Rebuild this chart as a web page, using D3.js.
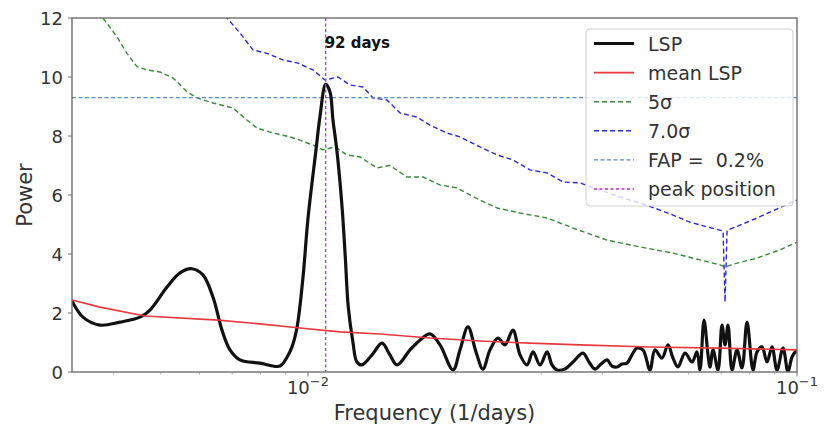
<!DOCTYPE html>
<html>
<head>
<meta charset="utf-8">
<script src="https://cdn.jsdelivr.net/npm/d3@7/dist/d3.min.js"></script>
<style>
  body { margin: 0; background: #fff; }
  text { font-family: "DejaVu Sans", sans-serif; white-space: pre; }
</style>
</head>
<body>
<svg id="chart" width="828" height="429"></svg>
<script>
// Lomb-Scargle periodogram of the light curve (frequency in 1/days)
const lspFreq = [0.003292, 0.003466, 0.003755, 0.004126, 0.004534, 0.004753, 0.005149, 0.005473, 0.00579, 0.006098,
  0.006393, 0.00667, 0.006926, 0.00726, 0.007975, 0.008765, 0.009059, 0.009275, 0.009495, 0.009767,
  0.01, 0.01038, 0.01058, 0.01087, 0.01109, 0.011249, 0.01146, 0.01174, 0.01192, 0.01209,
  0.01236, 0.01259, 0.01289, 0.013521, 0.01417, 0.01471, 0.01521, 0.01617, 0.01694, 0.01776,
  0.01862, 0.0198, 0.02046, 0.02124, 0.02206, 0.02279, 0.02356, 0.02446, 0.02528, 0.02625,
  0.02714, 0.02805, 0.02885, 0.02982, 0.03083, 0.03155, 0.0323, 0.03354, 0.03483, 0.03651,
  0.03755, 0.03863, 0.03974, 0.04088, 0.04185, 0.04284, 0.04386, 0.04491, 0.04598, 0.04707,
  0.04842, 0.05004, 0.05123, 0.05295, 0.05447, 0.05577, 0.05709, 0.05902, 0.06099, 0.06244,
  0.06333, 0.06454, 0.06577, 0.0664, 0.06734, 0.06894, 0.07025, 0.07126, 0.07227, 0.07365,
  0.0754, 0.07719, 0.07904, 0.08128, 0.08283, 0.0848, 0.08684, 0.0889, 0.09101, 0.09363,
  0.09585, 0.09768, 0.1];
const lspPower = [2.41, 1.86, 1.59, 1.69, 1.86, 2.1, 2.88, 3.36, 3.5, 3.29,
  2.54, 1.42, 0.75, 0.41, 0.3, 0.2, 0.5, 0.85, 1.5, 3.2,
  5.2, 7.5, 8.65, 9.75, 9.5, 8.54, 7.5, 5.6, 3.9, 2.2,
  1.0, 0.34, 0.24, 0.58, 0.98, 0.58, 0.24, 0.75, 1.08, 1.29,
  0.92, 0.07, 0.75, 1.53, 0.68, 0.1, 0.75, 1.15, 0.92, 1.42,
  0.58, 0.24, 0.68, 0.24, 0.68, 0.24, 0.07, 0.1, 0.34, 0.64,
  0.34, 0.1, 0.27, 0.41, 0.2, 0.17, 0.27, 0.3, 0.58, 0.81,
  0.75, 0.07, 0.75, 0.47, 0.92, 0.47, 0.17, 0.64, 0.34, 0.68,
  0.07, 1.76, 0.58, 0.17, 0.75, 0.07, 1.59, 0.92, 1.59, 0.07,
  0.75, 0.14, 1.69, 0.07, 0.68, 0.85, 0.34, 0.85, 0.07, 0.81,
  0.0, 0.51, 0.75];

// Mean periodogram of the simulated light curves
const meanFreq = [0.003292, 0.003755, 0.004642, 0.006546, 0.007975, 0.00963, 0.01163, 0.01404, 0.01776, 0.02247,
  0.02844, 0.036, 0.05004, 0.06959, 0.1];
const meanPower = [2.44, 2.2, 1.9, 1.76, 1.63, 1.49, 1.36, 1.29, 1.15, 1.05,
  0.98, 0.92, 0.85, 0.81, 0.75];

// 5 sigma significance level
const sigma5Freq = [0.003702, 0.003808, 0.004069, 0.004265, 0.004471, 0.004686, 0.004982, 0.005297, 0.005656, 0.005929,
  0.006393, 0.007025, 0.007503, 0.007865, 0.00848, 0.009187, 0.00963, 0.010238, 0.010732, 0.011355,
  0.012014, 0.012776, 0.013838, 0.01471, 0.01594, 0.017188, 0.01862, 0.020165, 0.022472, 0.024351,
  0.02714, 0.03083, 0.03483, 0.04088, 0.04776, 0.05577, 0.06333, 0.06959, 0.07126, 0.0754,
  0.08283, 0.0923, 0.09906, 0.1];
const sigma5Power = [12.5, 12.0, 11.36, 10.8, 10.35, 10.24, 10.17, 9.97, 9.5, 9.29,
  9.12, 8.95, 8.54, 8.27, 8.1, 7.97, 7.86, 7.69, 7.53, 7.63,
  7.36, 7.29, 6.92, 7.0, 6.61, 6.61, 6.34, 6.24, 5.83, 5.56,
  5.39, 5.22, 4.88, 4.47, 4.24, 4.03, 3.8, 3.63, 3.56, 3.69,
  3.86, 4.14, 4.37, 4.4];

// 7.0 sigma significance level
const sigma7Freq = [0.006607, 0.006829, 0.00726, 0.007718, 0.008246, 0.008889, 0.00954, 0.010238, 0.01083, 0.011517,
  0.012185, 0.012959, 0.013585, 0.014507, 0.015425, 0.016709, 0.01776, 0.019244, 0.02046, 0.022472,
  0.024351, 0.02625, 0.028443, 0.03083, 0.033221, 0.036, 0.039557, 0.043462, 0.04776, 0.052462,
  0.05577, 0.06042, 0.065451, 0.070601, 0.07126, 0.071942, 0.076468, 0.08283, 0.088076, 0.1];
const sigma7Power = [12.3, 12.0, 11.49, 10.92, 10.8, 10.58, 10.47, 10.24, 9.9, 10.0,
  9.73, 9.66, 9.29, 9.22, 8.78, 8.64, 8.37, 8.1, 7.97, 7.63,
  7.36, 7.19, 6.85, 6.75, 6.44, 6.41, 6.17, 5.93, 5.73, 5.49,
  5.32, 5.08, 4.92, 4.78, 2.37, 4.8, 4.98, 5.22, 5.42, 5.83];

const fapLevel = 9.3;          // power at false-alarm probability 0.2%
const peakPeriodDays = 92;     // period of the strongest peak
const xTickValues = [0.01, 0.1];
const xTickExponents = ["\u22122", "\u22121"];
const yTickValues = [0, 2, 4, 6, 8, 10, 12];
const legendLabels = ["LSP", "mean LSP", "5\u03c3", "7.0\u03c3", "FAP =  0.2%", "peak position"];

const svg = d3.select("#chart");
const plot = { left: 72, right: 797, top: 18, bottom: 372 };

const x = d3.scaleLog().domain([0.003292, 0.1]).range([plot.left, plot.right]);
const y = d3.scaleLinear().domain([0, 12]).range([plot.bottom, plot.top]);

svg.append("defs").append("clipPath").attr("id", "plot-clip")
  .append("rect")
  .attr("x", plot.left).attr("y", plot.top)
  .attr("width", plot.right - plot.left).attr("height", plot.bottom - plot.top);

const layer = svg.append("g").attr("clip-path", "url(#plot-clip)");

const zip = (fs, ps) => fs.map((f, i) => [f, ps[i]]);
const lineLinear = d3.line().x(d => x(d[0])).y(d => y(d[1]));
const lineSmooth = d3.line().x(d => x(d[0])).y(d => y(d[1])).curve(d3.curveCatmullRom.alpha(0.5));

// line styles shared by the curves and the legend handles
const styles = [
  { color: "#111111", width: 3.2, dash: null },
  { color: "#e8383d", width: 1.6, dash: null },
  { color: "#3a8a3a", width: 1.4, dash: "5,3" },
  { color: "#2a2ad6", width: 1.4, dash: "5,3" },
  { color: "#5b8cc8", width: 1.1, dash: "4,2.5" },
  { color: "#c02fc2", width: 1.3, dash: "3,2.5" }
];

function styled(sel, s) {
  sel.attr("fill", "none").attr("stroke", s.color).attr("stroke-width", s.width)
    .attr("stroke-linejoin", "round");
  if (s.dash) sel.attr("stroke-dasharray", s.dash);
  return sel;
}

// significance levels
styled(layer.append("path").attr("d", lineLinear(zip(sigma5Freq, sigma5Power))), styles[2]);
styled(layer.append("path").attr("d", lineLinear(zip(sigma7Freq, sigma7Power))), styles[3]);

// false-alarm level
styled(layer.append("line")
  .attr("x1", plot.left).attr("x2", plot.right)
  .attr("y1", y(fapLevel)).attr("y2", y(fapLevel)), styles[4]);

// periodogram and its mean
styled(layer.append("path").attr("d", lineSmooth(zip(lspFreq, lspPower))), styles[0]);
styled(layer.append("path").attr("d", lineLinear(zip(meanFreq, meanPower))), styles[1]);

// peak position
const peakX = x(1 / peakPeriodDays);
styled(layer.append("line")
  .attr("x1", peakX).attr("x2", peakX)
  .attr("y1", plot.top).attr("y2", plot.bottom), styles[5]);

svg.append("text")
  .attr("x", peakX - 1).attr("y", 48)
  .attr("font-size", 15).attr("font-weight", "bold").attr("fill", "#111")
  .text(peakPeriodDays + " days");

// frame
const spine = "#6e6e6e";
svg.append("rect")
  .attr("x", plot.left).attr("y", plot.top)
  .attr("width", plot.right - plot.left).attr("height", plot.bottom - plot.top)
  .attr("fill", "none").attr("stroke", spine).attr("stroke-width", 1.4);

// y axis
const yAxis = svg.append("g");
yAxis.selectAll("line").data(yTickValues).join("line")
  .attr("x1", plot.left - 4).attr("x2", plot.left)
  .attr("y1", d => y(d)).attr("y2", d => y(d))
  .attr("stroke", spine).attr("stroke-width", 1);
yAxis.selectAll("text").data(yTickValues).join("text")
  .attr("x", plot.left - 9).attr("y", d => y(d) + 6.5)
  .attr("text-anchor", "end").attr("font-size", 18).attr("fill", "#333")
  .text(d => d);

// x axis: decades with minor ticks
const minorTicks = [];
for (const base of [0.001, 0.01]) {
  for (let k = 2; k <= 9; k++) {
    const v = base * k;
    if (v >= x.domain()[0] && v <= x.domain()[1]) minorTicks.push(v);
  }
}
const xAxis = svg.append("g");
xAxis.selectAll("line.minor").data(minorTicks).join("line").attr("class", "minor")
  .attr("x1", d => x(d)).attr("x2", d => x(d))
  .attr("y1", plot.bottom).attr("y2", plot.bottom + 2.5)
  .attr("stroke", "#999").attr("stroke-width", 0.8);
xAxis.selectAll("line.major").data(xTickValues).join("line").attr("class", "major")
  .attr("x1", d => x(d)).attr("x2", d => x(d))
  .attr("y1", plot.bottom).attr("y2", plot.bottom + 4.5)
  .attr("stroke", spine).attr("stroke-width", 1);
const xLabels = xAxis.selectAll("text").data(xTickValues).join("text")
  .attr("x", d => x(d)).attr("y", 394)
  .attr("text-anchor", "middle").attr("font-size", 18).attr("fill", "#333");
xLabels.append("tspan").text("10");
xLabels.append("tspan").attr("dy", -8).attr("font-size", 13)
  .text((d, i) => xTickExponents[i]);

// axis titles
svg.append("text")
  .attr("x", (plot.left + plot.right) / 2).attr("y", 420)
  .attr("text-anchor", "middle").attr("font-size", 21).attr("fill", "#333")
  .text("Frequency (1/days)");
svg.append("text")
  .attr("transform", `translate(32,${(plot.top + plot.bottom) / 2}) rotate(-90)`)
  .attr("text-anchor", "middle").attr("font-size", 21).attr("fill", "#333")
  .text("Power");

// legend
const legend = svg.append("g");
legend.append("rect")
  .attr("x", 586).attr("y", 29).attr("width", 207).attr("height", 177)
  .attr("rx", 4).attr("fill", "#fff").attr("fill-opacity", 0.8)
  .attr("stroke", "#d0d0d0").attr("stroke-width", 1);
legendLabels.forEach((label, i) => {
  const cy = 43.5 + i * 29.1;
  styled(legend.append("line")
    .attr("x1", 594).attr("x2", 634).attr("y1", cy).attr("y2", cy), styles[i]);
  legend.append("text")
    .attr("x", 648).attr("y", cy + 7)
    .attr("font-size", 19).attr("fill", "#333")
    .text(label);
});
</script>
</body>
</html>
